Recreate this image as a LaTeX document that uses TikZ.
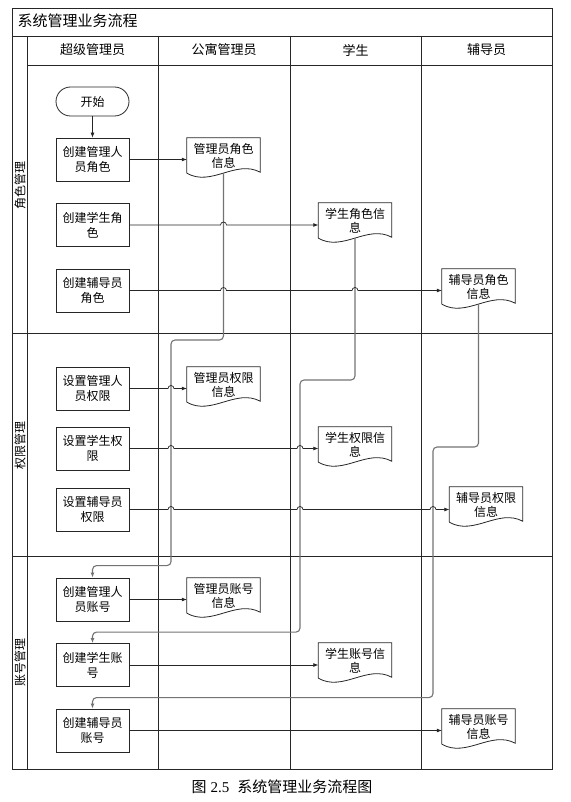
\documentclass[tikz,border=0pt]{standalone}
\usepackage{fontspec}
\setmainfont{Noto Sans CJK SC}
\newfontfamily\capnum{Liberation Serif}
\usepackage{tikz}
\usetikzlibrary{arrows.meta}
\usetikzlibrary{calc}

\tikzset{
  frame/.style={draw=black!85, line width=0.8pt},
  procbox/.style={frame, minimum width=73pt, minimum height=43pt, inner sep=1pt, align=center, font=\fontsize{12}{15}\selectfont},
  docbox/.style={minimum width=73pt, minimum height=35pt, inner sep=1pt, align=center, font=\fontsize{12}{14}\selectfont},
  flow/.style={draw=black!85, line width=0.7pt, -{Latex[length=5pt,width=4pt]}},
  link/.style={draw=black!55, line width=1.1pt, rounded corners=4pt, -{Latex[length=5pt,width=4pt]}},
  lanehead/.style={font=\fontsize{13}{15}\selectfont},
  lanelabel/.style={rotate=90, font=\fontsize{12}{13}\selectfont}
}

\begin{document}
\begin{tikzpicture}[x=1pt,y=-1pt]
\useasboundingbox (0,0) rectangle (570,802);

% pool and lanes
\draw[frame] (12,8) rectangle (552,769);
\draw[frame] (12,36) -- (552,36);
\draw[frame] (27,65) -- (552,65);
\draw[frame] (12,333) -- (552,333);
\draw[frame] (12,556) -- (552,556);
\foreach \x in {27,158,290,421}
  \draw[frame] (\x,36) -- (\x,769);

\node[anchor=west, font=\fontsize{15}{17}\selectfont] (title) at (14,21) {系统管理业务流程};
\node[lanehead] (h1) at (92.5,50) {超级管理员};
\node[lanehead] (h2) at (224,50) {公寓管理员};
\node[lanehead] (h3) at (355.5,50) {学生};
\node[lanehead] (h4) at (486.5,50) {辅导员};

\node[lanelabel] (r1) at (20,186) {角色管理};
\node[lanelabel] (r2) at (20,445) {权限管理};
\node[lanelabel] (r3) at (20,662) {账号管理};

% steps
\node[frame, rounded corners=14.5pt, minimum width=73pt, minimum height=29pt, font=\fontsize{12}{15}\selectfont] (st) at (92.5,101.5) {开始};
\node[procbox] (bA) at (92.5,159.5) {创建管理人\\员角色};
\node[procbox] (bB) at (92.5,225) {创建学生角\\色};
\node[procbox] (bC) at (92.5,290.5) {创建辅导员\\角色};
\node[procbox] (sA) at (92.5,388.5) {设置管理人\\员权限};
\node[procbox] (sB) at (92.5,448.5) {设置学生权\\限};
\node[procbox] (sC) at (92.5,509.5) {设置辅导员\\权限};
\node[procbox] (cA) at (92.5,599.5) {创建管理人\\员账号};
\node[procbox] (cB) at (92.5,665) {创建学生账\\号};
\node[procbox] (cC) at (92.5,730.5) {创建辅导员\\账号};

% documents
\node[docbox] (dA) at (223.5,155.5) {管理员角色\\信息};
\node[docbox] (dB) at (355,220.5) {学生角色信\\息};
\node[docbox] (dC) at (478.5,286.5) {辅导员角色\\信息};
\node[docbox] (pA) at (223.5,384.5) {管理员权限\\信息};
\node[docbox] (pB) at (355,444.5) {学生权限信\\息};
\node[docbox] (pC) at (486,504.5) {辅导员权限\\信息};
\node[docbox] (aA) at (223.5,595.5) {管理员账号\\信息};
\node[docbox] (aB) at (355,660.5) {学生账号信\\息};
\node[docbox] (aC) at (478.5,726.5) {辅导员账号\\信息};
\foreach \d in {dA,dB,dC,pA,pB,pC,aA,aB,aC}
  \draw[frame] (\d.south west) -- (\d.north west) -- (\d.north east) -- ($(\d.south east)+(0,-1)$)
    .. controls ($(\d.south east)+(-24.5,-14)$) and ($(\d.south west)+(24.5,14)$) .. (\d.south west);

% jog points
\coordinate (jA) at (171,340);
\coordinate (jB) at (300,380);
\coordinate (jC) at (433,447);

% role info back to account steps
\draw[link] (dA.south) |- (jA) |- ($(cA.north)+(0,-12)$) -- (cA.north);
\draw[link] (dB.south) |- (jB) |- ($(cB.north)+(0,-11)$) -- (cB.north);
\draw[link] (dC.south) |- (jC) |- ($(cC.north)+(0,-11)$) -- (cC.north);

% steps to documents
\draw[flow] (st) -- (bA);
\draw[flow] (bA.east) -- (bA.east -| dA.west);
\draw[flow] (bB.east) -- ($(bB.east -| dA.south)+(-3,0)$) arc[start angle=180,end angle=0,radius=3pt] -- (bB.east -| dB.west);
\draw[flow] (bC.east) -- ($(bC.east -| dA.south)+(-3,0)$) arc[start angle=180,end angle=0,radius=3pt]
  -- ($(bC.east -| dB.south)+(-3,0)$) arc[start angle=180,end angle=0,radius=3pt] -- (bC.east -| dC.west);
\draw[flow] (sA.east) -- ($(sA.east -| jA)+(-3,0)$) arc[start angle=180,end angle=0,radius=3pt] -- (sA.east -| pA.west);
\draw[flow] (sB.east) -- ($(sB.east -| jA)+(-3,0)$) arc[start angle=180,end angle=0,radius=3pt]
  -- ($(sB.east -| jB)+(-3,0)$) arc[start angle=180,end angle=0,radius=3pt] -- (sB.east -| pB.west);
\draw[flow] (sC.east) -- ($(sC.east -| jA)+(-3,0)$) arc[start angle=180,end angle=0,radius=3pt]
  -- ($(sC.east -| jB)+(-3,0)$) arc[start angle=180,end angle=0,radius=3pt]
  -- ($(sC.east -| jC)+(-3,0)$) arc[start angle=180,end angle=0,radius=3pt] -- (sC.east -| pC.west);
\draw[flow] (cA.east) -- (cA.east -| aA.west);
\draw[flow] (cB.east) -- (cB.east -| aB.west);
\draw[flow] (cC.east) -- (cC.east -| aC.west);

\node[font=\fontsize{15}{17}\selectfont] (cap) at (282,787) {图\hspace{4pt}{\capnum 2.5}\hspace{8pt}系统管理业务流程图};
\end{tikzpicture}
\end{document}
